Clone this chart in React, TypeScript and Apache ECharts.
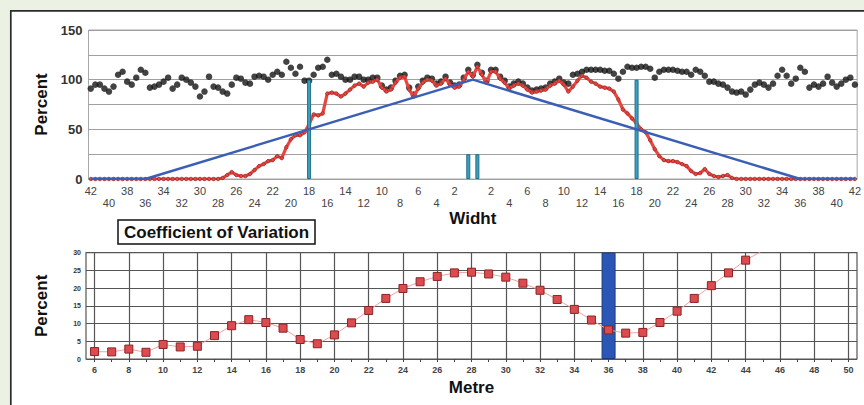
import React, { useEffect, useRef } from 'react';
import * as echarts from 'echarts';

// ---------- Top chart: profile across the width (-42 .. 42, step 0.5) ----------
const widthPositions: string[] = Array.from({ length: 169 }, (_, i) => String(-42 + i * 0.5));

const blackValues: number[] = [
  91, 95, 95, 91, 88, 93, 105, 108, 98, 95,
  102, 110, 107, 92, 93, 95, 98, 102, 91, 95,
  102, 100, 97, 93, 83, 88, 103, 93, 92, 88,
  86, 95, 102, 101, 97, 96, 103, 104, 103, 100,
  105, 108, 105, 118, 112, 106, 113, 99, 99, 105,
  112, 113, 120, 105, 106, 103, 100, 100, 103, 103,
  100, 100, 102, 102,
  94, 90, 92, 99, 104, 105, 92, 85, 93, 99, 102, 101, 96, 98, 103, 97, 94, 95, 102, 110,
  105, 115, 107, 99, 110, 110, 103, 99, 93, 96, 98, 96, 92, 89, 90, 91, 92, 96, 98, 101, 97, 96,
  105, 106, 108, 110, 110, 110, 110, 109, 109, 106, 101, 108, 113, 112, 112, 113, 113, 111, 102, 108,
  110, 110, 110, 109, 108, 108, 105, 110, 108, 104, 98, 98, 96, 95, 92, 88, 87, 88, 85, 90,
  95, 97, 95, 92, 96, 104, 110, 104, 96, 101, 112, 108, 92, 95, 93, 96, 103, 97, 93, 96,
  100, 102, 95,
];

const redValues: number[] = [
  0, 0, 0, 0, 0, 0, 0, 0, 0, 0, 0, 0, 0, 0, 0, 0, 0, 0, 0, 0, 0, 0, 0, 0, 0, 0, 0, 0, 0, 1,
  4, 7, 4, 3, 3, 5, 9, 13, 15, 18, 19, 23, 21, 32, 40, 44, 44, 47, 55, 65, 64, 66, 86, 87, 86, 83,
  86, 90, 94, 96, 93, 97, 98, 100,
  92, 88, 90, 97, 102, 103, 90, 83, 91, 97, 100, 99, 94, 96, 101, 95, 92, 93, 100, 108,
  103, 113, 105, 97, 108, 108, 101, 97, 91, 94, 96, 94, 90, 87, 88, 89, 90, 94, 96, 99, 95, 88,
  93, 99, 104, 102, 98, 96, 93, 92, 91, 88, 80, 70, 66, 61, 56, 50, 47, 39, 30, 23,
  19, 18, 18, 17, 15, 13, 8, 5, 6, 10, 5, 3, 2, 3, 4, 1,
  0, 0, 0, 0, 0, 0, 0, 0, 0, 0, 0, 0, 0, 0, 0, 0, 0, 0, 0, 0, 0, 0, 0, 0, 0, 0, 0,
];

const trianglePositions: string[] = ['-42', '-36', '0', '36', '42'];
const triangleValues: number[] = [0, 0, 100, 0, 0];

const markerPositions: string[] = ['-18', '-0.5', '0.5', '18'];
const markerValues: number[] = [100, 25, 25, 100];

const topYLabels: number[] = [0, 50, 100, 150];

// ---------- Bottom chart: coefficient of variation along the length ----------
const metreCategories: string[] = Array.from({ length: 91 }, (_, i) => String(5.5 + i * 0.5));
const cvMetres: number[] = [
  6, 7, 8, 9, 10, 11, 12, 13, 14, 15, 16, 17, 18, 19, 20, 21, 22, 23, 24, 25,
  26, 27, 28, 29, 30, 31, 32, 33, 34, 35, 36, 37, 38, 39, 40, 41, 42, 43, 44, 45,
];
const cvValues: number[] = [
  2.1, 2.0, 2.8, 1.9, 4.1, 3.4, 3.6, 6.6, 9.4, 11.1, 10.3, 8.7, 5.5, 4.3, 6.8, 10.2, 13.7, 17.1, 19.9, 21.8,
  23.3, 24.3, 24.5, 24.0, 23.1, 21.4, 19.4, 16.8, 14.0, 11.0, 8.2, 7.3, 7.5, 10.3, 13.5, 17.1, 20.7, 24.3, 27.9, 30.6,
];
const highlightMetres: string[] = ['36'];
const highlightValues: number[] = [30];

const FONT = "'Liberation Sans', Arial, sans-serif";

export default function App() {
  const ref = useRef<HTMLDivElement>(null);

  useEffect(() => {
    if (!ref.current) return;
    const chart = echarts.init(ref.current, null, { renderer: 'svg' });

    const option: any = {
      animation: false,
      backgroundColor: '#ecf2e3',
      textStyle: { fontFamily: FONT },
      title: {
        text: 'Coefficient of Variation',
        left: 118,
        top: 220,
        padding: [4, 6, 3, 6],
        borderColor: '#111',
        borderWidth: 1.5,
        backgroundColor: '#fff',
        textStyle: { fontSize: 17, fontWeight: 'bold', color: '#111', fontFamily: FONT },
      },
      graphic: [
        {
          type: 'rect',
          z: -1,
          silent: true,
          shape: { x: 10.8, y: 10.8, width: 900, height: 500 },
          style: { fill: '#ffffff', stroke: '#2b2b2b', lineWidth: 1.7 },
        },
      ],
      grid: [
        { left: 88.5, top: 30, width: 771.5, height: 149, show: true, borderColor: '#a8a8a8', borderWidth: 1 },
        { left: 86, top: 252.7, width: 771, height: 106.3, show: true, borderColor: '#555', borderWidth: 1.2 },
      ],
      xAxis: [
        {
          type: 'category',
          gridIndex: 0,
          data: widthPositions,
          boundaryGap: true,
          axisLine: { show: false },
          axisTick: { show: false },
          splitLine: { show: false },
          axisLabel: {
            interval: 3,
            fontSize: 11,
            lineHeight: 12,
            margin: 6,
            color: '#444',
            fontFamily: FONT,
            formatter: (v: string) => {
              const n = Math.abs(Number(v));
              if (n === 0) return '';
              return n % 4 === 2 ? String(n) : '\n' + n;
            },
          },
          name: 'Widht',
          nameLocation: 'middle',
          nameGap: 24,
          nameTextStyle: { fontSize: 17, fontWeight: 'bold', color: '#111', fontFamily: FONT },
        },
        {
          type: 'category',
          gridIndex: 1,
          data: metreCategories,
          boundaryGap: false,
          axisLine: { show: false },
          axisTick: {
            show: true,
            interval: (_i: number, v: string) => Number.isInteger(Number(v)),
            length: 3,
            lineStyle: { color: '#444' },
          },
          splitLine: {
            show: true,
            interval: (_i: number, v: string) => Number(v) % 2 === 0,
            lineStyle: { color: '#555', width: 1.2 },
          },
          axisLabel: {
            interval: (_i: number, v: string) => Number(v) % 2 === 0,
            fontSize: 9,
            fontWeight: 'bold',
            color: '#444',
            margin: 6,
            fontFamily: FONT,
          },
          name: 'Metre',
          nameLocation: 'middle',
          nameGap: 20,
          nameTextStyle: { fontSize: 17, fontWeight: 'bold', color: '#111', fontFamily: FONT },
        },
      ],
      yAxis: [
        {
          type: 'value',
          gridIndex: 0,
          min: 0,
          max: 150,
          interval: 25,
          axisLine: { show: false },
          axisTick: { show: false },
          splitLine: { lineStyle: { color: '#a0a0a0', width: 1 } },
          axisLabel: {
            fontSize: 13,
            fontWeight: 'bold',
            color: '#333',
            margin: 6,
            fontFamily: FONT,
            formatter: (v: number) => (topYLabels.includes(v) ? String(v) : ''),
          },
          name: 'Percent',
          nameLocation: 'middle',
          nameGap: 38,
          nameRotate: 90,
          nameTextStyle: { fontSize: 17, fontWeight: 'bold', color: '#111', fontFamily: FONT },
        },
        {
          type: 'value',
          gridIndex: 1,
          min: 0,
          max: 30,
          interval: 5,
          axisLine: { show: false },
          axisTick: { show: false },
          splitLine: { lineStyle: { color: '#555', width: 1.2 } },
          axisLabel: { fontSize: 7, fontWeight: 'bold', color: '#333', margin: 5, fontFamily: FONT },
          name: 'Percent',
          nameLocation: 'middle',
          nameGap: 36,
          nameRotate: 90,
          nameTextStyle: { fontSize: 17, fontWeight: 'bold', color: '#111', fontFamily: FONT },
        },
      ],
      series: [
        {
          type: 'scatter',
          xAxisIndex: 0,
          yAxisIndex: 0,
          data: blackValues,
          symbol: 'circle',
          symbolSize: 6.5,
          itemStyle: { color: '#141414' },
          z: 2,
        },
        {
          type: 'line',
          xAxisIndex: 0,
          yAxisIndex: 0,
          data: redValues,
          showAllSymbol: true,
          symbol: 'circle',
          symbolSize: 3.5,
          lineStyle: { color: '#e8463f', width: 3.2 },
          itemStyle: { color: '#e8463f', borderColor: '#7a2020', borderWidth: 0.6 },
          z: 3,
        },
        {
          type: 'bar',
          xAxisIndex: 0,
          yAxisIndex: 0,
          data: markerPositions.map((p, i) => [p, markerValues[i]]),
          barWidth: 4,
          itemStyle: { color: '#3d9fc0', borderColor: '#1f6f88', borderWidth: 1 },
          z: 4,
        },
        {
          type: 'line',
          xAxisIndex: 0,
          yAxisIndex: 0,
          data: trianglePositions.map((p, i) => [p, triangleValues[i]]),
          symbol: 'none',
          lineStyle: { color: '#3a5fb5', width: 2.5 },
          z: 5,
        },
        {
          type: 'bar',
          xAxisIndex: 1,
          yAxisIndex: 1,
          data: highlightMetres.map((m, i) => [m, highlightValues[i]]),
          barWidth: 14,
          itemStyle: { color: '#2a57b5', borderColor: '#173a85', borderWidth: 1 },
          z: 2,
        },
        {
          type: 'line',
          xAxisIndex: 1,
          yAxisIndex: 1,
          data: cvMetres.map((m, i) => [String(m), cvValues[i]]),
          showAllSymbol: true,
          symbol: 'rect',
          symbolSize: 8,
          lineStyle: { color: '#f2a0a0', width: 1 },
          itemStyle: { color: '#dd4a4f', borderColor: '#8a2424', borderWidth: 1 },
          z: 3,
        },
      ],
    };

    chart.setOption(option);
    return () => chart.dispose();
  }, []);

  return (
    <div
      ref={ref}
      style={{ position: 'fixed', left: 0, top: 0, width: 864, height: 405 }}
    />
  );
}
